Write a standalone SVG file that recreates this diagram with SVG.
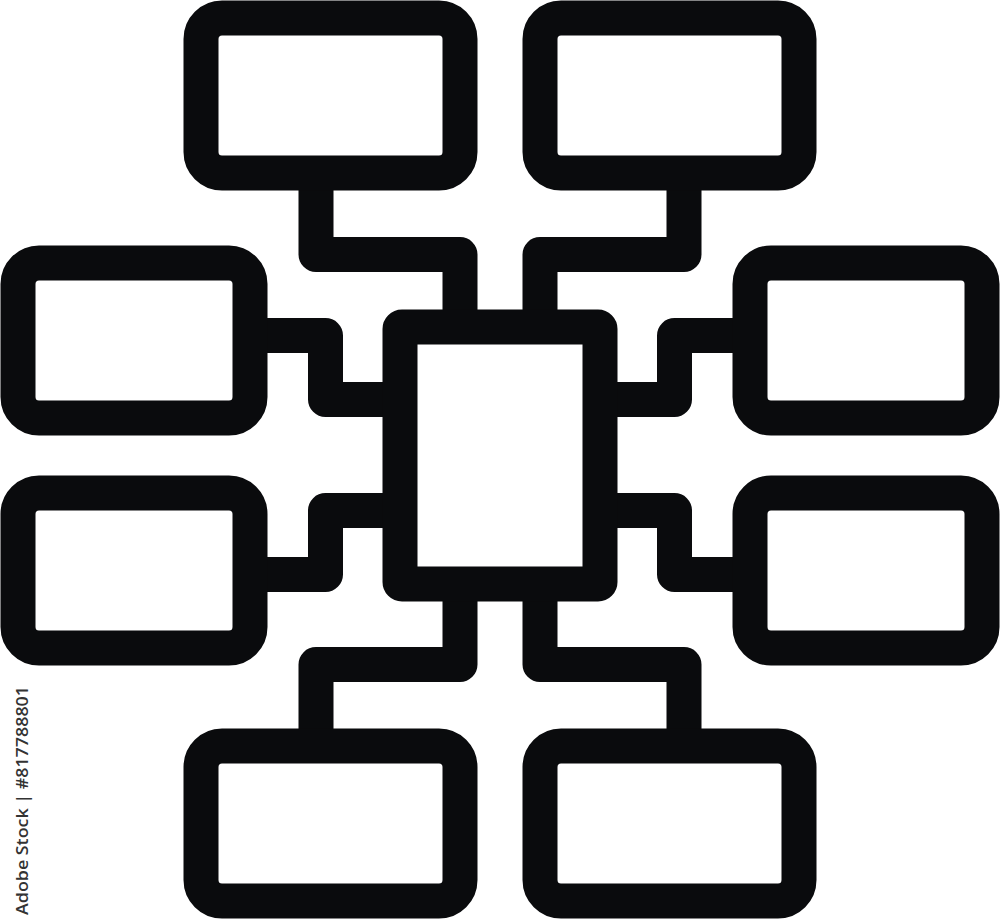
<svg xmlns="http://www.w3.org/2000/svg" width="1000" height="920" viewBox="0 0 1000 920">
  <style>
    .box { fill: #ffffff; stroke: #0a0b0d; stroke-width: 35; }
    .link { fill: none; stroke: #0a0b0d; stroke-width: 35; stroke-linejoin: round; stroke-linecap: butt; }
    .credit { font-family: "Open Sans", "Liberation Sans", sans-serif; font-size: 17px; font-weight: 600; fill: #333333; }
  </style>
  <rect width="1000" height="920" fill="#ffffff"/>
  <g id="connectors">
    <path class="link" d="M316,172 V254.5 H460 V327"/>
    <path class="link" d="M684,172 V254.5 H540 V327"/>
    <path class="link" d="M250,335.5 H325.5 V399.5 H400"/>
    <path class="link" d="M250,574.5 H325.5 V510.5 H400"/>
    <path class="link" d="M750,335.5 H674.5 V399.5 H600"/>
    <path class="link" d="M750,574.5 H674.5 V510.5 H600"/>
    <path class="link" d="M460,584 V664.5 H316 V746"/>
    <path class="link" d="M540,584 V664.5 H684 V746"/>
  </g>
  <g id="node-center">
    <rect class="box" x="400" y="327" width="200" height="257" rx="2" stroke-linejoin="round"/>
  </g>
  <g id="node-top-left">
    <rect class="box" x="201" y="18" width="259" height="155" rx="21"/>
  </g>
  <g id="node-top-right">
    <rect class="box" x="540" y="18" width="259" height="155" rx="21"/>
  </g>
  <g id="node-left-upper">
    <rect class="box" x="18" y="263" width="232" height="155" rx="21"/>
  </g>
  <g id="node-left-lower">
    <rect class="box" x="18" y="493" width="232" height="155" rx="21"/>
  </g>
  <g id="node-right-upper">
    <rect class="box" x="750" y="263" width="232" height="155" rx="21"/>
  </g>
  <g id="node-right-lower">
    <rect class="box" x="750" y="493" width="232" height="155" rx="21"/>
  </g>
  <g id="node-bottom-left">
    <rect class="box" x="201" y="746" width="259" height="155" rx="21"/>
  </g>
  <g id="node-bottom-right">
    <rect class="box" x="540" y="746" width="259" height="155" rx="21"/>
  </g>
  <text class="credit" transform="translate(28,915) rotate(-90)" textLength="229" lengthAdjust="spacingAndGlyphs">Adobe Stock | #817788801</text>
</svg>
